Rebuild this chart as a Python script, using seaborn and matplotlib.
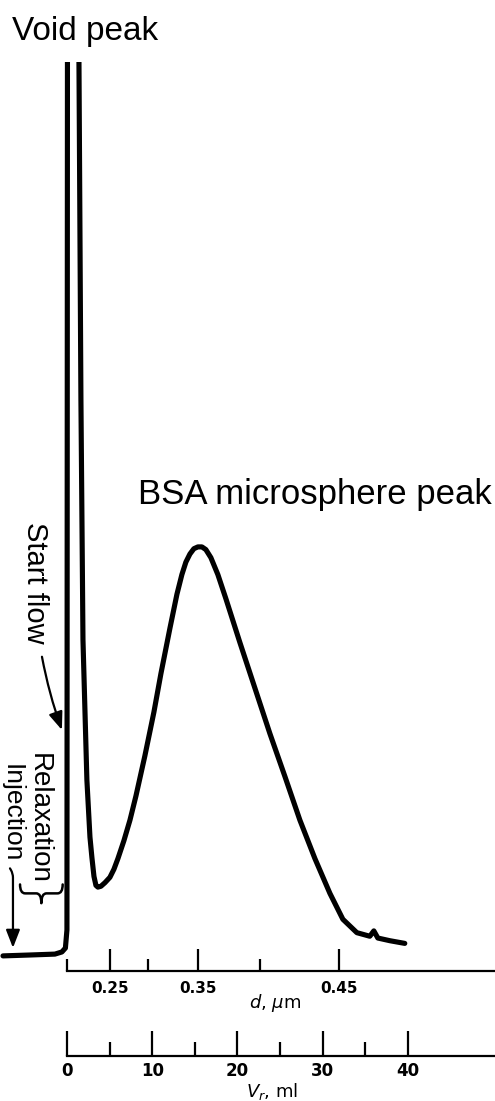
import matplotlib
matplotlib.use("Agg")
import matplotlib.pyplot as plt
import pandas as pd
import seaborn as sns
from matplotlib.path import Path
from matplotlib.patches import PathPatch

# Fractogram trace:
# retention volume Vr (ml) against detector signal (% of the plotted height)
vr_ml = [-7.50, -4.34, -1.41, -0.59, -0.18, 0.00, 0.06, 0.70, 1.41, 1.64,
         1.88, 2.34, 2.70, 2.93, 3.17, 3.40, 3.63, 3.99, 4.46, 5.04,
         5.51, 5.98, 6.68, 7.39, 8.09, 9.14, 10.20, 11.02, 12.08, 12.90,
         13.48, 13.95, 14.42, 14.89, 15.36, 15.83, 16.29, 16.88, 17.70, 18.64,
         20.28, 22.04, 23.80, 25.56, 27.32, 29.08, 30.84, 32.36, 34.00, 35.52,
         35.99, 36.46, 37.87, 39.62]
signal = [-0.1, 0.0, 0.1, 0.34, 0.78, 2.8, 100.0, 200.0, 100.0, 62.2,
          35.3, 19.6, 13.2, 10.9, 8.8, 7.8, 7.6, 7.7, 8.1, 8.7,
          9.6, 10.8, 12.8, 15.1, 17.8, 22.3, 27.2, 31.5, 36.6, 40.4,
          42.6, 44.0, 44.9, 45.5, 45.7, 45.7, 45.4, 44.5, 42.6, 39.9,
          35.0, 29.9, 24.8, 20.0, 15.1, 10.8, 6.9, 4.0, 2.5, 2.1,
          2.7, 1.9, 1.6, 1.3]

# particle diameter scale, placed at the retention volumes it corresponds to
d_labels_um = [0.25, 0.35, 0.45]
d_major_vr = [5.1, 15.4, 31.9]
d_minor_vr = [0.0, 9.5, 22.6]

# retention volume scale
vr_major = [0, 10, 20, 30, 40]
vr_minor = [5, 15, 25, 35]

sns.set_theme(style="ticks", rc={"axes.edgecolor": "black", "xtick.color": "black",
                                 "text.color": "black", "axes.labelcolor": "black"})
plt.rcParams["font.family"] = ["DejaVu Sans"]

W, H = 495, 1101
fig = plt.figure(figsize=(W / 100, H / 100), dpi=100)
XLIM = (-7.85, 50.2)


def band(top_px, bottom_px):
    # axes spanning the full width between two pixel rows
    return [0, 1 - bottom_px / H, 1, (bottom_px - top_px) / H]


# main trace
ax = fig.add_axes(band(62, 975))
trace = pd.DataFrame({"vr": vr_ml, "signal": signal})
sns.lineplot(data=trace, x="vr", y="signal", ax=ax, color="black", lw=3.7,
             sort=False, estimator=None, solid_joinstyle="round", solid_capstyle="round")
ax.set_xlim(*XLIM)
ax.set_ylim(-2.24, 100)
ax.axis("off")

font = ["Liberation Sans", "DejaVu Sans"]
ax.text(-6.45, 103.4, "Void peak", ha="left", va="center", fontsize=24,
        family=font, clip_on=False)
ax.text(49.8, 51.6, "BSA microsphere peak", ha="right", va="center", fontsize=25,
        family=font)
ax.text(-3.75, 41.7, "Start flow", rotation=-90, ha="center", va="center",
        fontsize=21, family=font)
ax.text(-3.34, 15.3, "Relaxation", rotation=-90, ha="center", va="center",
        fontsize=20, family=font)
ax.text(-6.50, 15.9, "Injection", rotation=-90, ha="center", va="center",
        fontsize=19, family=font)

# horizontal curly brace under "Relaxation" (ends turn up, cusp points down)
left, right, level, tip, curl = -5.5, -0.5, 6.9, 5.8, 7.9
mid = (left + right) / 2
q = 0.6
verts = [(left, curl), (left, level), (left + q, level), (mid - q, level),
         (mid, level), (mid, tip), (mid, level), (mid + q, level),
         (right - q, level), (right, level), (right, curl)]
codes = [Path.MOVETO, Path.CURVE3, Path.CURVE3, Path.LINETO,
         Path.CURVE3, Path.CURVE3, Path.CURVE3, Path.CURVE3,
         Path.LINETO, Path.CURVE3, Path.CURVE3]
ax.add_patch(PathPatch(Path(verts, codes), fill=False, lw=1.8, color="black",
                       capstyle="round", joinstyle="round"))

arrow = dict(arrowstyle="-|>,head_length=0.9,head_width=0.35", color="black", lw=1.6,
             shrinkA=0, shrinkB=0)
ax.annotate("", xy=(-0.59, 25.2), xytext=(-2.93, 33.4),
            arrowprops=dict(arrow, connectionstyle="arc3,rad=0.04"))
ax.annotate("", xy=(-6.33, 0.8), xytext=(-6.68, 9.7),
            arrowprops=dict(arrow, connectionstyle="angle,angleA=-60,angleB=-90,rad=4"))


def scale_axis(top_px, bottom_px, major, labels, minor, major_len, minor_len, pad, size):
    sax = fig.add_axes(band(top_px, bottom_px))
    sax.patch.set_alpha(0)
    sax.set_xlim(*XLIM)
    sax.set_yticks([])
    for s in ["top", "left", "right"]:
        sax.spines[s].set_visible(False)
    sax.spines["bottom"].set_bounds(0, XLIM[1])
    sax.spines["bottom"].set_linewidth(1.6)
    sax.set_xticks(major, labels)
    sax.set_xticks(minor, minor=True)
    sax.tick_params(axis="x", which="major", bottom=True, direction="in",
                    length=major_len, width=1.6, pad=pad, labelsize=size)
    sax.tick_params(axis="x", which="minor", bottom=True, direction="in",
                    length=minor_len, width=1.6)
    for lab in sax.get_xticklabels():
        lab.set_fontweight("bold")
    return sax


scale_axis(950, 971, d_major_vr, [f"{v:.2f}" for v in d_labels_um], d_minor_vr,
           16, 8.6, 7, 11)
scale_axis(1030, 1056, vr_major, [str(v) for v in vr_major], vr_minor, 18, 10, 4, 12)

fig.text(275 / W, 1 - 1003 / H, "$d$, $\\mu$m", ha="center", va="center", fontsize=13)
fig.text(272 / W, 1 - 1091 / H, "$V_r$, ml", ha="center", va="center", fontsize=13)

fig.savefig("out.png", dpi=100)
